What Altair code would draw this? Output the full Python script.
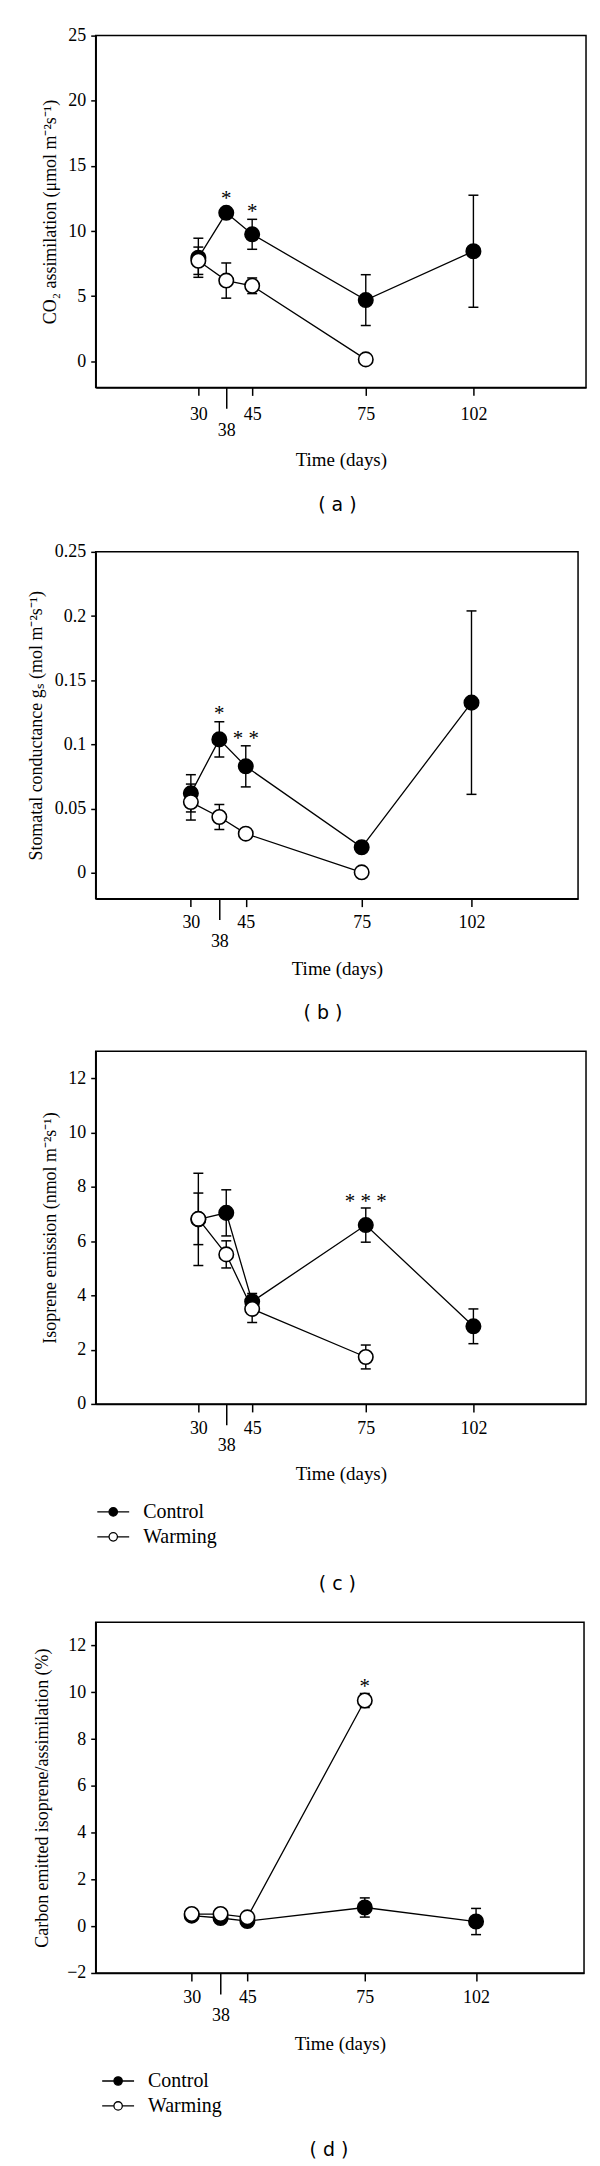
import altair as alt
import pandas as pd

# ---------------- data ----------------
day_labels = ["30", "38", "45", "75", "102"]
day_pos = [33, 40, 46.5, 75, 102]          # plotting positions of the sampling days
series_names = ["Control", "Warming"]

# (a) CO2 assimilation
a_ctrl = [7.95, 11.4, 9.75, 4.7, 8.45]
a_ctrl_err = [1.5, 0.3, 1.15, 1.95, 4.3]
a_warm = [7.72, 6.2, 5.8, 0.15, None]
a_warm_err = [1.05, 1.35, 0.6, 0.2, None]
a_star_pos = [40, 46.5]
a_star_y = [12.77, 11.75]
a_star_txt = ["*", "*"]

# (b) stomatal conductance
b_ctrl = [0.062, 0.104, 0.083, 0.020, 0.1326]
b_ctrl_err = [0.0145, 0.0137, 0.016, 0.003, 0.0714]
b_warm = [0.0552, 0.0436, 0.0306, 0.0005, None]
b_warm_err = [0.014, 0.0097, 0.003, 0.002, None]
b_star_pos = [40, 46.5]
b_star_y = [0.1267, 0.107]
b_star_txt = ["*", "* *"]

# (c) isoprene emission
c_ctrl = [6.8, 7.04, 3.77, 6.59, 2.86]
c_ctrl_err = [1.7, 0.85, 0.3, 0.63, 0.64]
c_warm = [6.82, 5.51, 3.5, 1.73, None]
c_warm_err = [0.95, 0.5, 0.5, 0.44, None]
c_star_pos = [75]
c_star_y = [7.58]
c_star_txt = ["* * *"]

# (d) carbon emitted isoprene / assimilation
d_ctrl = [0.45, 0.35, 0.22, 0.8, 0.2]
d_ctrl_err = [0.2, 0.15, 0.1, 0.41, 0.56]
d_warm = [0.52, 0.52, 0.38, 9.65, None]
d_warm_err = [0.15, 0.1, 0.1, 0.3, None]
d_star_pos = [75]
d_star_y = [10.4]
d_star_txt = ["*"]

SERIF = "Liberation Serif"
SANS = "DejaVu Sans"

label_expr = " : ".join(
    f"datum.value == {p} ? '{l}'" for p, l in zip(day_pos, day_labels)
) + " : ''"
special = day_pos[1]

# legend symbol: line with a circle in the middle
LEG_SYMBOL = ("M-3.2,0L-0.84,0M0.84,0L3.2,0"
              "M0.84,0A0.84,0.84,0,1,1,-0.84,0A0.84,0.84,0,1,1,0.84,0Z")


def build_df(ctrl, ctrl_err, warm, warm_err):
    rows = []
    for name, vals, errs in zip(series_names, [ctrl, warm], [ctrl_err, warm_err]):
        for p, v, e in zip(day_pos, vals, errs):
            if v is None:
                continue
            rows.append({"series": name, "pos": p, "value": v,
                         "lo": v - e, "hi": v + e})
    return pd.DataFrame(rows)


def make_panel(df, star_pos, star_y, star_txt, ydomain, yvalues, ytitle,
               xdomain, width, height, title_x, caption, caption_dx,
               caption_offset, xtitle_y, label_pad, long_pad, legend_xy=None):
    cond = f"datum.value == {special}"
    xaxis = alt.Axis(
        values=day_pos, labelExpr=label_expr, title="Time (days)",
        titleY=xtitle_y, titleBaseline="middle",
        tickSize={"condition": {"test": cond, "value": 21}, "value": 8},
        labelPadding={"condition": {"test": cond, "value": long_pad}, "value": label_pad},
        labelOverlap=False, labelFlush=False, labelBound=False, grid=False)
    x = alt.X("pos:Q", scale=alt.Scale(domain=xdomain, nice=False, zero=False), axis=xaxis)
    yscale = alt.Scale(domain=ydomain, nice=False, zero=False)
    yaxis = alt.Axis(values=yvalues, format="~g", title=ytitle, titleX=title_x,
                     tickSize=5, labelPadding=5, grid=False, labelFlush=False,
                     labelOverlap=False, labelBound=False)

    base = alt.Chart(df)
    lines = base.mark_line(color="black", strokeWidth=1.3).encode(
        x=x, y=alt.Y("value:Q", scale=yscale, axis=yaxis), detail="series:N")
    bars = base.mark_rule(color="black", strokeWidth=1.4).encode(
        x=x, y=alt.Y("lo:Q", scale=yscale, axis=yaxis), y2="hi:Q")
    cap_lo = base.mark_tick(orient="horizontal", size=10, thickness=1.5, color="black",
                            opacity=1).encode(x=x, y=alt.Y("lo:Q", scale=yscale, axis=yaxis))
    cap_hi = base.mark_tick(orient="horizontal", size=10, thickness=1.5, color="black",
                            opacity=1).encode(x=x, y=alt.Y("hi:Q", scale=yscale, axis=yaxis))

    if legend_xy is None:
        legend = None
    else:
        legend = alt.Legend(orient="none", legendX=legend_xy[0], legendY=legend_xy[1],
                            title=None, symbolType=LEG_SYMBOL, symbolSize=100,
                            symbolStrokeColor="black", symbolStrokeWidth=1.3,
                            symbolOpacity=1, labelFont=SERIF, labelFontSize=20,
                            labelColor="black", labelOffset=20, rowPadding=5,
                            padding=0, labelLimit=0)
    pts = base.mark_point(filled=True, size=210, stroke="black", strokeWidth=1.6,
                          opacity=1).encode(
        x=x, y=alt.Y("value:Q", scale=yscale, axis=yaxis),
        fill=alt.Fill("series:N",
                      scale=alt.Scale(domain=series_names, range=["black", "white"]),
                      legend=legend))

    sdf = pd.DataFrame({"pos": star_pos, "sy": star_y, "txt": star_txt})
    stars = alt.Chart(sdf).mark_text(font=SERIF, fontSize=21, baseline="middle",
                                     dy=4, color="black").encode(
        x=x, y=alt.Y("sy:Q", scale=yscale, axis=yaxis), text="txt:N")

    return alt.layer(lines, bars, cap_lo, cap_hi, pts, stars).properties(
        width=width, height=height,
        title=alt.TitleParams(caption, orient="bottom", anchor="middle", frame="group",
                              dx=caption_dx, offset=caption_offset, font=SANS,
                              fontSize=19, fontWeight="normal", color="black"))


pa = make_panel(build_df(a_ctrl, a_ctrl_err, a_warm, a_warm_err),
                a_star_pos, a_star_y, a_star_txt,
                [-2, 25], [0, 5, 10, 15, 20, 25],
                "CO\u2082 assimilation (\u03bcmol m\u207b\u00b2s\u207b\u00b9)",
                [7.25, 130.25], 492, 353, -36, "( a )", -3.5, 27, 72, 10, 13.5)

pb = make_panel(build_df(b_ctrl, b_ctrl_err, b_warm, b_warm_err),
                b_star_pos, b_star_y, b_star_txt,
                [-0.02, 0.25], [0, 0.05, 0.1, 0.15, 0.2, 0.25],
                "Stomatal conductance g\u209b (mol m\u207b\u00b2s\u207b\u00b9)",
                [9.6, 128.2], 484, 348, -50.5, "( b )", -14, 25.5, 70, 7, 13)

pc = make_panel(build_df(c_ctrl, c_ctrl_err, c_warm, c_warm_err),
                c_star_pos, c_star_y, c_star_txt,
                [0, 13], [0, 2, 4, 6, 8, 10, 12],
                "Isoprene emission (nmol m\u207b\u00b2s\u207b\u00b9)",
                [7.25, 130.25], 492, 354, -36.4, "( c )", -3.5, 28, 70, 8, 11.5,
                legend_xy=(7.6, 452.4))

pd_ = make_panel(build_df(d_ctrl, d_ctrl_err, d_warm, d_warm_err),
                 d_star_pos, d_star_y, d_star_txt,
                 [-2, 13], [-2, 0, 2, 4, 6, 8, 10, 12],
                 "Carbon emitted isoprene/assimilation (%)",
                 [9.7, 128.2], 490, 352, -44.7, "( d )", -11, 25, 71, 7.5, 12.5,
                 legend_xy=(12.5, 450.4))

chart = alt.concat(pa, pb, pc, pd_, columns=1, spacing=26, align="none").resolve_scale(
    x="independent", y="independent", fill="independent"
).resolve_legend(fill="independent").properties(
    padding={"left": 18, "top": 14, "right": 5, "bottom": 5}
).configure_view(
    stroke="black", strokeWidth=1.5
).configure_axis(
    domainColor="black", domainWidth=1.5, tickColor="black", tickWidth=1.5,
    labelFont=SERIF, labelFontSize=18, labelColor="black",
    titleFont=SERIF, titleFontSize=18, titleColor="black", titleFontWeight="normal"
).configure_axisX(titleFontSize=19)

chart.save("out.html", embed_options={"renderer": "svg", "actions": False})
